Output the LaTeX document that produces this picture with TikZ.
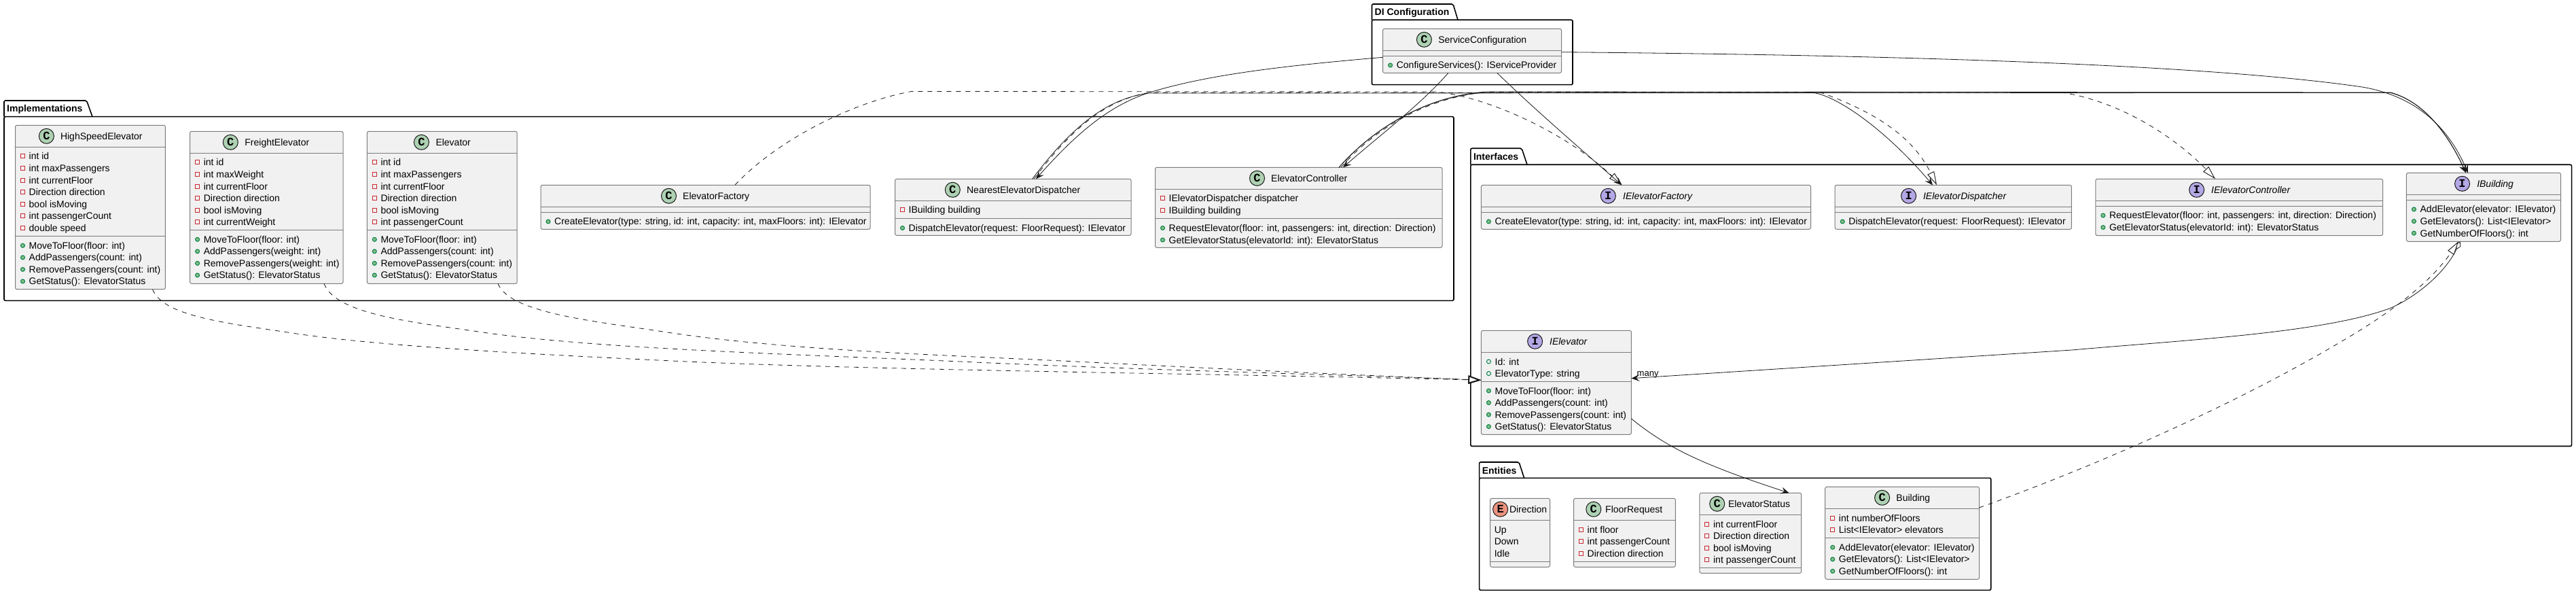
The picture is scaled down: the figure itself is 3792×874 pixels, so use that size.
\documentclass[tikz,border=0pt]{standalone}
\usepackage{fontspec}
\setmainfont{Liberation Sans}
\newfontfamily\iconfont{Liberation Mono}
\usetikzlibrary{arrows.meta,calc,fit}
\definecolor{boxfill}{HTML}{F1F1F1}
\definecolor{boxedge}{HTML}{7C7C7C}
\definecolor{ink}{HTML}{181818}
\definecolor{classicon}{HTML}{ADD1B2}
\definecolor{ifaceicon}{HTML}{B4A7E5}
\definecolor{enumicon}{HTML}{EB937F}
\definecolor{privred}{HTML}{C82930}
\definecolor{pubgreen}{HTML}{038048}
\definecolor{pubfill}{HTML}{84BE84}
\tikzset{
  pkgedge/.style={draw=black,line width=1.6pt,rounded corners=2pt},
  pkgbody/.style={pkgedge,inner sep=0pt,outer sep=0pt},
  pkgtitle/.style={anchor=base west,inner sep=0pt,font=\fontsize{14}{16}\selectfont\bfseries},
  boxbody/.style={draw=boxedge,fill=boxfill,line width=1pt,rounded corners=2.5pt,inner sep=0pt,outer sep=0pt},
  divline/.style={draw=boxedge,line width=1pt},
  iconbase/.style={circle,draw=ink,line width=1pt,minimum size=22pt,inner sep=0pt},
  iconletter/.style={anchor=base,inner sep=0pt,font=\fontsize{17}{17}\selectfont\iconfont\bfseries},
  titletxt/.style={anchor=base west,inner sep=0pt,font=\fontsize{14}{16}\selectfont},
  memtxt/.style={anchor=base west,inner sep=0pt,font=\fontsize{14}{16}\selectfont,text=black},
  linklabel/.style={anchor=base west,inner sep=0pt,font=\fontsize{13}{15}\selectfont,text=black},
  assoc/.style={draw=ink,line width=.8pt,-{Stealth[length=12pt,width=10pt,inset=5pt]}},
  realize/.style={draw=ink,line width=.8pt,dash pattern=on 7pt off 7pt,-{Triangle[open,length=20pt,width=11pt,fill=white,line width=.9pt]}},
  realizeheavy/.style={draw=ink,line width=.8pt,dash pattern=on 7pt off 7pt,-{Triangle[open,length=19pt,width=12pt,fill=white,line width=1.8pt]}},
  owned/.style={draw=ink,line width=.8pt,{Diamond[open,length=13pt,width=8pt,fill=white]}-{Stealth[length=12pt,width=10pt,inset=5pt]}},
}
\newcount\rownum
% name, x1, y1, x2, y2, iconcolour, letter, icon x, title x, title
\newcommand{\umlbox}[9]{%
  \node[boxbody,fit={(#2,#3) (#4,#5)}] (#1) {};
  \node[iconbase,fill=#6] (#1-icon) at (#8,#3+16) {};
  \node[iconletter] (#1-letter) at (#8,#3+21.5) {#7};
  \node[titletxt] (#1-title) at (#9,#3+21) }
\newcommand{\divat}[3]{\draw[divline] (#1,#3) -- (#2,#3);}
\newcommand{\startrows}[2]{\gdef\rowx{#1}\gdef\rowy{#2}}
\newcommand{\rowtext}[2]{%
  \global\advance\rownum by 1
  \node[memtxt] (row\the\rownum) at (\rowx+#1,\rowy+5) {#2};
  \pgfmathparse{\rowy+17.55}\xdef\rowy{\pgfmathresult}}
\newcommand{\priv}[1]{\draw[draw=privred,line width=1pt] (\rowx+8,\rowy-3) rectangle (\rowx+14,\rowy+3);\rowtext{20}{#1}}
\newcommand{\pubf}[1]{\draw[draw=pubgreen,line width=1pt] (\rowx+11,\rowy) circle[radius=3];\rowtext{20}{#1}}
\newcommand{\pubm}[1]{\draw[draw=pubgreen,fill=pubfill,line width=1pt] (\rowx+11,\rowy) circle[radius=3];\rowtext{20}{#1}}
\newcommand{\bare}[1]{\rowtext{6}{#1}}
% name, x1, tab top, body top, x2, y2, tab right top, tab right bottom, label
\newcommand{\pkgbox}[9]{%
  \node[pkgbody,fit={(#2,#4) (#5,#6)}] (#1) {};
  \draw[pkgedge] (#2,#4) -- (#2,#3) -- (#7,#3) -- (#8,#4);
  \node[pkgtitle] (#1-label) at (#2+4,#3+17) {#9};}
\begin{document}
\begin{tikzpicture}[x=1pt,y=-1pt]
\path[use as bounding box,fill=white] (0,0) rectangle (3792,874);

% packages
\pkgbox{Implementations}{6}{148}{171.7}{2140}{442.3}{127.5}{136}{Implementations}
\pkgbox{DIConfiguration}{2019.5}{6}{29.3}{2315}{124.7}{2139}{2146}{DI Configuration}
\pkgbox{Interfaces}{2164.8}{218.3}{242.3}{3785.5}{656.5}{2240}{2248}{Interfaces}
\pkgbox{Entities}{2177.6}{680}{703.3}{2930.7}{868.3}{2236}{2243.6}{Entities}

% Implementations
\umlbox{HighSpeedElevator}{22.5}{184.3}{243.4}{425.7}{classicon}{C}{68.4}{88.8}{HighSpeedElevator};
\divat{22.5}{243.4}{216.3}\divat{22.5}{243.4}{347.3}
\startrows{22.5}{230}
\priv{int id}\priv{int maxPassengers}\priv{int currentFloor}\priv{Direction direction}\priv{bool isMoving}\priv{int passengerCount}\priv{double speed}
\startrows{22.5}{361.3}
\pubm{MoveToFloor(floor: int)}\pubm{AddPassengers(count: int)}\pubm{RemovePassengers(count: int)}\pubm{GetStatus(): ElevatorStatus}

\umlbox{FreightElevator}{279.6}{193.3}{505}{417.3}{classicon}{C}{339.3}{360.2}{FreightElevator};
\divat{279.6}{505}{225.3}\divat{279.6}{505}{338.3}
\startrows{279.6}{239}
\priv{int id}\priv{int maxWeight}\priv{int currentFloor}\priv{Direction direction}\priv{bool isMoving}\priv{int currentWeight}
\startrows{279.6}{352.3}
\pubm{MoveToFloor(floor: int)}\pubm{AddPassengers(weight: int)}\pubm{RemovePassengers(weight: int)}\pubm{GetStatus(): ElevatorStatus}

\umlbox{Elevator}{540.3}{193.3}{761.2}{417.3}{classicon}{C}{620.4}{641.3}{Elevator};
\divat{540.3}{761.2}{225.3}\divat{540.3}{761.2}{338.3}
\startrows{540.3}{239}
\priv{int id}\priv{int maxPassengers}\priv{int currentFloor}\priv{Direction direction}\priv{bool isMoving}\priv{int passengerCount}
\startrows{540.3}{352.3}
\pubm{MoveToFloor(floor: int)}\pubm{AddPassengers(count: int)}\pubm{RemovePassengers(count: int)}\pubm{GetStatus(): ElevatorStatus}

\umlbox{ElevatorFactory}{796}{272.3}{1281}{337.3}{classicon}{C}{984.5}{1005}{ElevatorFactory};
\divat{796}{1281}{304.3}\divat{796}{1281}{312.3}
\startrows{796}{326}
\pubm{CreateElevator(type: string, id: int, capacity: int, maxFloors: int): IElevator}

\umlbox{NearestElevatorDispatcher}{1317.5}{263.3}{1665}{346.3}{classicon}{C}{1402.3}{1422.9}{NearestElevatorDispatcher};
\divat{1317.5}{1665}{295.3}\divat{1317.5}{1665}{321.7}
\startrows{1317.5}{309}
\priv{IBuilding building}
\startrows{1317.5}{335.5}
\pubm{DispatchElevator(request: FloorRequest): IElevator}

\umlbox{ElevatorController}{1700.5}{246.3}{2123}{364.3}{classicon}{C}{1850.5}{1871}{ElevatorController};
\divat{1700.5}{2123}{278.3}\divat{1700.5}{2123}{321.7}
\startrows{1700.5}{292}
\priv{IElevatorDispatcher dispatcher}\priv{IBuilding building}
\startrows{1700.5}{335.5}
\pubm{RequestElevator(floor: int, passengers: int, direction: Direction)}\pubm{GetElevatorStatus(elevatorId: int): ElevatorStatus}

% DI Configuration
\umlbox{ServiceConfiguration}{2035.6}{42.3}{2298.5}{107.3}{classicon}{C}{2096.4}{2117.1}{ServiceConfiguration};
\divat{2035.6}{2298.5}{74.3}\divat{2035.6}{2298.5}{82.3}
\startrows{2035.6}{96}
\pubm{ConfigureServices(): IServiceProvider}

% Interfaces
\umlbox{IElevatorFactory}{2180.4}{272.3}{2665.5}{337.3}{ifaceicon}{I}{2367.3}{2389}{\itshape IElevatorFactory};
\divat{2180.4}{2665.5}{304.3}\divat{2180.4}{2665.5}{312.3}
\startrows{2180.4}{326}
\pubm{CreateElevator(type: string, id: int, capacity: int, maxFloors: int): IElevator}

\umlbox{IElevatorDispatcher}{2701.2}{272.3}{3049.4}{337.3}{ifaceicon}{I}{2809.6}{2830.8}{\itshape IElevatorDispatcher};
\divat{2701.2}{3049.4}{304.3}\divat{2701.2}{3049.4}{312.3}
\startrows{2701.2}{326}
\pubm{DispatchElevator(request: FloorRequest): IElevator}

\umlbox{IElevatorController}{3084.8}{263.3}{3507.5}{346.7}{ifaceicon}{I}{3233.6}{3255}{\itshape IElevatorController};
\divat{3084.8}{3507.5}{295.3}\divat{3084.8}{3507.5}{303.3}
\startrows{3084.8}{317}
\pubm{RequestElevator(floor: int, passengers: int, direction: Direction)}\pubm{GetElevatorStatus(elevatorId: int): ElevatorStatus}

\umlbox{IBuilding}{3542.4}{254.3}{3769.5}{355.3}{ifaceicon}{I}{3624.5}{3646}{\itshape IBuilding};
\divat{3542.4}{3769.5}{286.3}\divat{3542.4}{3769.5}{294.3}
\startrows{3542.4}{308}
\pubm{AddElevator(elevator: IElevator)}\pubm{GetElevators(): List<IElevator>}\pubm{GetNumberOfFloors(): int}

\umlbox{IElevator}{2180.4}{486.3}{2401.4}{639.3}{ifaceicon}{I}{2259.6}{2280.9}{\itshape IElevator};
\divat{2180.4}{2401.4}{518.3}\divat{2180.4}{2401.4}{561}
\startrows{2180.4}{532}
\pubf{Id: int}\pubf{ElevatorType: string}
\startrows{2180.4}{575}
\pubm{MoveToFloor(floor: int)}\pubm{AddPassengers(count: int)}\pubm{RemovePassengers(count: int)}\pubm{GetStatus(): ElevatorStatus}

% Entities
\umlbox{Direction}{2193.6}{733.3}{2281.5}{834.3}{enumicon}{E}{2208.6}{2221.8}{Direction};
\divat{2193.6}{2281.5}{765.3}\divat{2193.6}{2281.5}{826.3}
\startrows{2193.6}{779.3}
\bare{Up}\bare{Down}\bare{Idle}

\umlbox{FloorRequest}{2316.5}{733.3}{2466.3}{834.3}{classicon}{C}{2345.8}{2363}{FloorRequest};
\divat{2316.5}{2466.3}{765.3}\divat{2316.5}{2466.3}{826.3}
\startrows{2316.5}{779.3}
\priv{int floor}\priv{int passengerCount}\priv{Direction direction}

\umlbox{ElevatorStatus}{2501.9}{725.3}{2651.7}{843.3}{classicon}{C}{2527.7}{2543.8}{ElevatorStatus};
\divat{2501.9}{2651.7}{757.3}\divat{2501.9}{2651.7}{835.3}
\startrows{2501.9}{771.3}
\priv{int currentFloor}\priv{Direction direction}\priv{bool isMoving}\priv{int passengerCount}

\umlbox{Building}{2686.7}{716.3}{2913.5}{852.3}{classicon}{C}{2770.6}{2791.2}{Building};
\divat{2686.7}{2913.5}{748.3}\divat{2686.7}{2913.5}{791.3}
\startrows{2686.7}{762.3}
\priv{int numberOfFloors}\priv{List<IElevator> elevators}
\startrows{2686.7}{805.3}
\pubm{AddElevator(elevator: IElevator)}\pubm{GetElevators(): List<IElevator>}\pubm{GetNumberOfFloors(): int}

% realizations of IElevator
\draw[realizeheavy] ($(HighSpeedElevator.south west)+(202,0)$) .. controls (240,465) and (330,475) .. (430,490)
  .. controls (560,510) and (800,522) .. (1004,531.7) .. controls (1300,545) and (1800,550) .. ($(IElevator.north west)+(0,73)$);
\draw[realizeheavy] ($(FreightElevator.south west)+(197.4,0)$) .. controls (495,465) and (620,475) .. (717.5,490)
  .. controls (900,515) and (1200,522) .. (1435,533) .. controls (1700,545) and (2000,552) .. ($(IElevator.north west)+(0,73)$);
\draw[realizeheavy] ($(Elevator.south west)+(192.7,0)$) .. controls (750,460) and (870,472) .. (976,488)
  .. controls (1150,515) and (1380,522) .. (1578,531.7) .. controls (1800,543) and (2000,552) .. ($(IElevator.north west)+(0,73)$);

% factory, dispatcher, controller realizations
\draw[realize] ($(ElevatorFactory.north west)+(285.8,0)$) .. controls (1150,200) and (1265,148) .. (1342,134.5)
  -- (2115,135) .. controls (2200,145) and (2310,200) .. ($(IElevatorFactory.north west)+(207,0)$);
\draw[realize] ($(NearestElevatorDispatcher.north west)+(204.5,0)$) .. controls (1590,172) and (1640,146) .. (1690,136.5)
  -- (2680,136) .. controls (2760,165) and (2815,200) .. ($(IElevatorDispatcher.north west)+(149.8,0)$);
\draw[realize] ($(ElevatorController.north west)+(273.5,0)$) .. controls (2030,182) and (2110,142) .. (2189,135.5)
  -- (3035,136) .. controls (3125,150) and (3205,205) .. ($(IElevatorController.north west)+(176.2,0)$);

% associations from the implementations
\draw[assoc] ($(NearestElevatorDispatcher.north west)+(202.1,0)$) .. controls (1590,170) and (1640,145) .. (1690,137)
  -- (3519,136.5) .. controls (3570,150) and (3605,200) .. ($(IBuilding.north west)+(87.6,0)$);
\draw[assoc] ($(ElevatorController.north west)+(270.5,0)$) .. controls (2030,180) and (2110,140) .. (2189,135)
  -- (3519,136) .. controls (3570,150) and (3605,200) .. ($(IBuilding.north west)+(87.6,0)$);
\draw[assoc] ($(ElevatorController.north west)+(270.5,0)$) .. controls (2030,180) and (2110,140) .. (2189,136)
  -- (2670,136.5) .. controls (2705,142) and (2775,190) .. ($(IElevatorDispatcher.north west)+(143.8,0)$);

% ServiceConfiguration
\draw[assoc] ($(ServiceConfiguration.north west)+(0,42)$) .. controls (1900,96) and (1790,108) .. (1703.6,132.7)
  .. controls (1640,150) and (1590,190) .. ($(NearestElevatorDispatcher.north west)+(207.5,0)$);
\draw[assoc] ($(ServiceConfiguration.south west)+(96.4,0)$) .. controls (2090,155) and (2030,200) .. ($(ElevatorController.north west)+(276.5,0)$);
\draw[assoc] ($(ServiceConfiguration.south west)+(168.2,0)$) .. controls (2260,162) and (2330,222) .. ($(IElevatorFactory.north west)+(207,0)$);
\draw[assoc] ($(ServiceConfiguration.north east)+(0,34.4)$) .. controls (2800,81) and (3250,95) .. (3477,128)
  .. controls (3560,142) and (3605,190) .. ($(IBuilding.north west)+(90.6,0)$);

% IBuilding and IElevator
\draw[owned] ($(IBuilding.south west)+(79.1,0)$) .. controls (3600,400) and (3560,435) .. (3519,453.3)
  .. controls (3420,490) and (3220,500) .. (3050,515) -- ($(IElevator.north east)+(0,70.4)$);
\node[linklabel] (manylabel) at (2409.5,553) {many};
\draw[realize] ($(Building.north east)+(0,30.7)$) .. controls (3100,680) and (3300,590) .. (3452,499.3)
  .. controls (3510,465) and (3575,420) .. ($(IBuilding.south west)+(76.6,0)$);
\draw[assoc] ($(IElevator.north east)+(0,129.7)$) .. controls (2455,660) and (2510,685) .. ($(ElevatorStatus.north west)+(131.6,0)$);
\end{tikzpicture}
\end{document}
